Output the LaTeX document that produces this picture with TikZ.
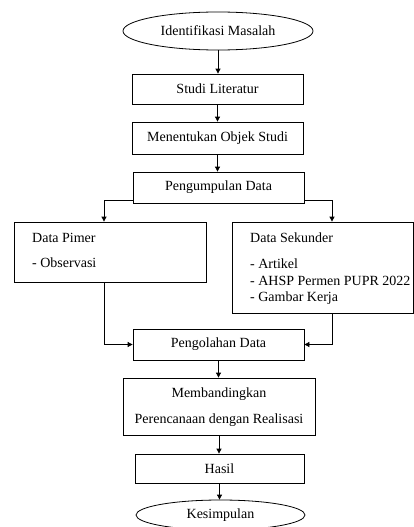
\documentclass[tikz,border=0pt]{standalone}
\usepackage{fontspec}
\setmainfont{Liberation Serif}
\usetikzlibrary{arrows.meta,shapes.geometric}
\begin{document}
\begin{tikzpicture}[x=1pt,y=-1pt,
  box/.style={draw,line width=0.8pt,inner sep=0pt,font=\fontsize{14}{16}\selectfont},
  oval/.style={draw,ellipse,line width=0.8pt,inner sep=0pt,font=\fontsize{14}{16}\selectfont},
  txt/.style={anchor=west,inner sep=0pt,font=\fontsize{14}{16}\selectfont},
  arr/.style={line width=0.8pt,-{Triangle[length=5pt,width=5pt]}}]
\useasboundingbox (0,0) rectangle (414,527);
\clip (0,0) rectangle (414,527);
\node[oval,minimum width=190pt,minimum height=38pt] (ident) at (218,31) {Identifikasi Masalah};
\node[box,minimum width=171pt,minimum height=30pt] (studi) at (217.5,89) {Studi Literatur};
\node[box,minimum width=171pt,minimum height=32pt] (objek) at (217.5,138) {Menentukan Objek Studi};
\node[box,minimum width=171pt,minimum height=31pt] (kumpul) at (218.5,187.5) {Pengumpulan Data};
\node[box,minimum width=192pt,minimum height=60pt] (pimer) at (110,252) {};
\node[txt] (pimer1) at (32,238) {Data Pimer};
\node[txt] (pimer2) at (32,263) {- Observasi};
\node[box,minimum width=181pt,minimum height=91pt] (sek) at (322.5,267.5) {};
\node[txt] (sek1) at (250,238) {Data Sekunder};
\node[txt] (sek2) at (250,264) {- Artikel};
\node[txt] (sek3) at (250,281) {- AHSP Permen PUPR 2022};
\node[txt] (sek4) at (250,298) {- Gambar Kerja};
\node[box,minimum width=171pt,minimum height=31pt] (olah) at (218.5,344.5) {Pengolahan Data};
\node[box,minimum width=192pt,minimum height=57pt] (banding) at (219,406.5) {};
\node[inner sep=0pt,font=\fontsize{14}{16}\selectfont] (banding1) at (219,394) {Membandingkan};
\node[inner sep=0pt,font=\fontsize{14}{16}\selectfont] (banding2) at (219,420) {Perencanaan dengan Realisasi};
\node[box,minimum width=169pt,minimum height=29pt] (hasil) at (219.5,468.5) {Hasil};
\node[oval,minimum width=169pt,minimum height=30pt] (simpul) at (220.5,515) {Kesimpulan};
\draw[arr] (ident.south) -- (ident.south |- studi.north);
\draw[arr] (studi.south) -- (studi.south |- objek.north);
\draw[arr] (objek.south) -- (objek.south |- kumpul.north);
\draw[arr] ([yshift=3pt]kumpul.south west) -| ([xshift=-6pt]pimer.north);
\draw[arr] ([yshift=3pt]kumpul.south east) -| ([xshift=9.5pt]sek.north);
\draw[arr] ([xshift=-6pt]pimer.south) |- (olah.west);
\draw[arr] ([xshift=9.5pt]sek.south) |- (olah.east);
\draw[arr] (olah.south) -- (olah.south |- banding.north);
\draw[arr] (banding.south) -- (banding.south |- hasil.north);
\draw[arr] (hasil.south) -- (hasil.south |- simpul.north);
\end{tikzpicture}
\end{document}
